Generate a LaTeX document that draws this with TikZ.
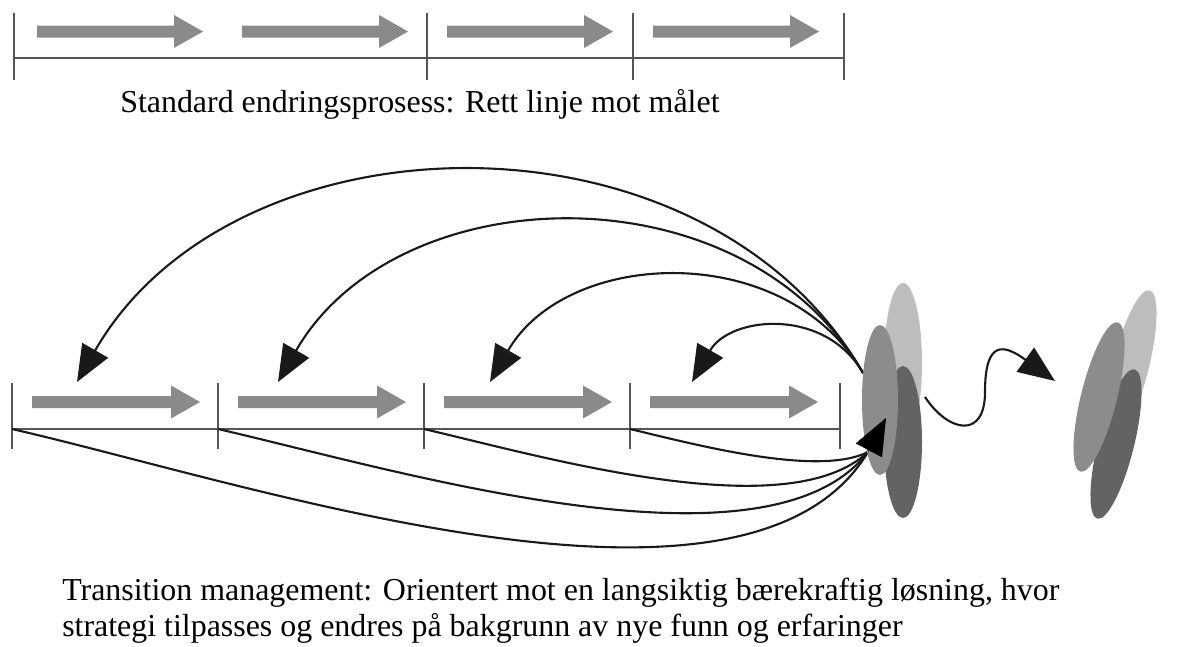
\documentclass[tikz,border=0pt]{standalone}
\usepackage{fontspec}
\setmainfont{Liberation Serif}
\usetikzlibrary{arrows.meta, positioning}
\definecolor{blockgray}{HTML}{8A8A8A}
\definecolor{ovallight}{HTML}{BDBDBD}
\definecolor{ovalmid}{HTML}{8C8C8C}
\definecolor{ovaldark}{HTML}{636363}
\definecolor{axisgray}{HTML}{555555}
% block arrow: start x, end x, centre y
\newcommand{\stagearrow}[3]{%
  \fill[blockgray] (#1,#3-6) -- (#2-29,#3-6) -- (#2-29,#3-16.5) -- (#2,#3)
    -- (#2-29,#3+16.5) -- (#2-29,#3+6) -- (#1,#3+6) -- cycle;}

\begin{document}
\begin{tikzpicture}[x=0.025cm, y=-0.025cm,
    timeline/.style={axisgray, line width=1.1pt},
    loopline/.style={black!90, line width=1.5pt},
    bigtip/.style={-{Triangle[length=26pt, width=21pt]}},
    caption/.style={inner sep=0pt, font=\fontsize{22.7}{25.6}\selectfont, align=left}]
        \useasboundingbox (0,0) rectangle (1179,646);

        % standard process
        \draw[timeline] (14,58) -- (844,58);
        \foreach \x in {14,427,633,844} \draw[timeline] (\x,13) -- (\x,80);
        \foreach \x in {37,242,447,653} \stagearrow{\x}{\x+166}{31.5};
        \node[caption, anchor=base west] (stdtext) at (120,112) {Standard endringsprosess: Rett linje mot målet};

        % transition management
        \draw[timeline] (12,429) -- (840,429);
        \foreach \x in {12,218,424,630,840} \draw[timeline] (\x,383) -- (\x,449);
        \foreach \x in {32,238,444,650} \stagearrow{\x}{\x+168}{402};
        \foreach \x [count=\i] in {12,218,424,630} \coordinate (t\i) at (\x,429);
        \coordinate (src) at (863,373);
        \coordinate (hub) at (868,452);
        \coordinate (hubtip) at (886,418);
        \foreach \x [count=\i] in {77,278,490,692} \coordinate (r\i) at (\x,382);

        \foreach \e/\t in {r1/315, r2/238, r3/154, r4/76}
            \draw[loopline, bigtip] (src) .. controls +(-0.5*\t,-0.87*\t) and +(0.5*\t,-0.87*\t) .. (\e);
        \foreach \s/\a/\b/\c/\d in {t1/240/55/-120/200, t2/182/42/-100/130, t3/124/29/-80/75, t4/67/16/-50/25}
            \draw[loopline] (\s) .. controls +(\a,\b) and +(\c,\d) .. (hub);

        % clusters
        \fill[ovallight] (903,363) ellipse [x radius=19, y radius=80];
        \fill[ovaldark] (903,442) ellipse [x radius=19, y radius=76];
        \fill[ovalmid] (880,400) ellipse [x radius=18, y radius=75];
        \fill[ovallight, rotate around={-14:(1131,365)}] (1131,365) ellipse [x radius=18, y radius=77];
        \fill[ovaldark, rotate around={-14:(1116,444)}] (1116,444) ellipse [x radius=18, y radius=77];
        \fill[ovalmid, rotate around={-14:(1099,397)}] (1099,397) ellipse [x radius=18, y radius=77];
        \draw[bigtip, black] (hub) -- (hubtip);

        \coordinate (shift) at (925,397);
        \coordinate (goal) at (1055,381);
        \draw[loopline, bigtip] (shift) .. controls (948,432) and (985,440) .. (985,392)
            .. controls (985,338) and (1005,345) .. (goal);

        \node[caption, anchor=base west] (tmtext) at (62,636) {Transition management: Orientert mot en langsiktig bærekraftig løsning, hvor\\strategi tilpasses og endres på bakgrunn av nye funn og erfaringer};
    \end{tikzpicture}
\end{document}
